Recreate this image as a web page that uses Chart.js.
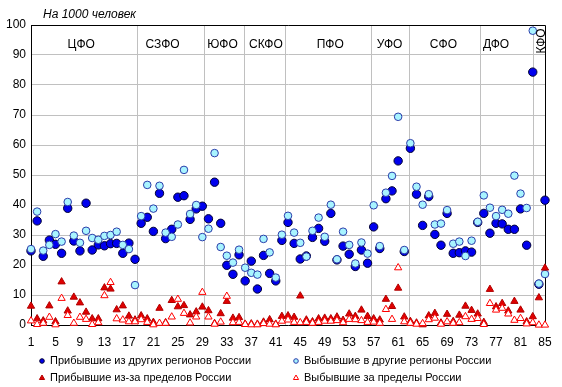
<!DOCTYPE html>
<html><head><meta charset="utf-8">
<script src="https://cdn.jsdelivr.net/npm/chart.js@4/dist/chart.umd.min.js"></script>
<style>html,body{margin:0;padding:0;background:#fff;}#wrap{width:562px;height:387px;position:relative;}</style>
</head><body><div id="wrap"><canvas id="c" width="562" height="387"></canvas></div>
<script>
const regions = [1,2,3,4,5,6,7,8,9,10,11,12,13,14,15,16,17,18,19,20,21,22,23,24,25,26,27,28,29,30,31,32,33,34,35,36,37,38,39,40,41,42,43,44,45,46,47,48,49,50,51,52,53,54,55,56,57,58,59,60,61,62,63,64,65,66,67,68,69,70,71,72,73,74,75,76,77,78,79,80,81,82,83,84,85];
const arrivalsDomestic = [24.7,34.7,22.9,28.3,26.9,23.9,38.9,28.0,24.7,40.6,25.0,26.7,26.4,27.1,27.2,23.9,27.3,21.9,33.9,35.9,31.2,43.9,28.8,31.9,42.6,43.1,35.2,38.7,39.6,35.4,47.6,33.9,19.9,16.9,23.4,14.7,21.3,12.0,23.2,17.2,14.7,28.2,34.2,27.2,22.0,23.0,29.2,32.2,27.9,37.2,21.7,26.3,23.6,19.5,25.0,20.6,32.7,25.5,42.1,44.7,54.7,24.5,58.9,43.6,33.2,42.8,30.2,26.6,37.2,23.9,24.1,24.7,24.3,34.2,37.2,30.6,33.9,33.7,31.9,31.9,38.7,26.6,84.3,13.6,41.6];
const departuresDomestic = [25.3,37.8,24.8,26.7,30.3,27.8,41.0,29.8,27.4,31.4,29.0,28.4,29.7,30.0,31.1,26.7,25.3,13.3,36.3,46.7,38.8,46.4,30.8,29.4,33.5,51.7,37.0,40.0,29.3,32.1,57.3,26.0,23.1,20.8,25.1,19.1,17.4,16.8,28.7,24.2,15.8,30.1,36.4,30.8,27.4,22.8,31.4,35.8,29.4,40.1,21.9,31.1,26.7,20.5,27.5,23.8,39.9,26.3,44.1,49.7,69.4,25.0,60.6,46.1,40.1,43.6,33.5,33.8,38.3,27.1,27.8,23.0,28.1,34.4,43.2,39.1,36.3,38.4,37.1,49.8,43.8,39.0,98.1,13.8,17.0];
const arrivalsAbroad = [6.3,2.1,1.4,6.4,1.1,14.4,4.7,9.3,7.4,4.3,2.1,2.1,12.4,12.0,5.1,6.4,3.0,1.7,3.1,2.1,0.9,5.6,0.8,8.2,6.1,6.5,3.4,4.4,6.0,4.8,0.5,3.8,7.9,2.3,2.5,0.3,0.4,0.3,1.0,1.8,0.3,2.9,3.1,2.6,9.7,1.7,1.1,2.1,2.3,2.1,2.7,1.6,3.7,2.9,5.0,2.9,2.1,1.7,8.6,6.2,12.3,2.7,1.2,0.7,0.1,3.1,3.9,0.7,3.6,1.2,3.3,6.3,4.9,3.7,0.9,11.9,6.1,7.2,4.7,7.9,5.0,1.1,2.8,9.1,19.0];
const departuresAbroad = [1.4,0.2,0.6,2.6,0.1,8.9,3.2,0.6,2.6,1.9,0.2,0.8,9.8,14.2,2.1,1.7,1.1,1.1,1.8,0.9,0.1,0.6,0.6,2.7,8.6,3.9,0.7,2.7,10.9,2.7,0.3,1.0,9.6,0.8,0.9,0.2,0.1,0.1,0.5,0.3,0.1,1.3,1.7,0.9,0.8,0.9,0.6,0.9,1.3,1.3,1.5,0.8,1.9,1.8,1.5,0.9,1.0,0.6,5.2,1.9,19.1,1.1,0.6,0.3,0.5,1.8,2.3,0.3,1.1,0.6,0.8,2.8,1.9,2.2,0.2,7.2,5.0,5.6,3.7,1.6,2.2,0.4,0.8,0.0,0.0];
const xTickLabels = [1,5,9,13,17,21,25,29,33,37,41,45,49,53,57,61,65,69,73,77,81,85];
const yTickLabels = [0,10,20,30,40,50,60,70,80,90,100];
const districtNames = ['ЦФО','СЗФО','ЮФО','СКФО','ПФО','УФО','СФО','ДФО','КФО'];
const districtLabelX = [9.2,22.5,32.3,39.4,49.9,59.6,68.4,77.0,84.5];
const districtBoundaries = [18.4,29.2,35.8,42.5,56.5,62.7,74.3,83.0];
const seriesNames = ['Прибывшие из других регионов России','Выбывшие в другие регионы России','Прибывшие из-за пределов России','Выбывшие за пределы России'];
const unitLabel = 'На 1000 человек';

const FONT = '"Liberation Sans", Arial, sans-serif';
const toPts = arr => regions.map((x, i) => ({x: x, y: arr[i]}));

const decor = {
  id: 'decor',
  beforeDatasetsDraw(chart) {
    const {ctx, chartArea: a, scales: {x, y}} = chart;
    ctx.save();
    ctx.strokeStyle = '#c0c0c0';
    ctx.lineWidth = 1;
    districtBoundaries.forEach(v => {
      const px = Math.round(x.getPixelForValue(v)) + 0.5;
      ctx.beginPath(); ctx.moveTo(px, a.top); ctx.lineTo(px, a.bottom); ctx.stroke();
    });
    ctx.strokeStyle = '#000';
    ctx.beginPath();
    ctx.moveTo(a.left, Math.round(a.top) + 0.5);
    ctx.lineTo(Math.round(a.right) + 0.5, Math.round(a.top) + 0.5);
    ctx.lineTo(Math.round(a.right) + 0.5, a.bottom);
    ctx.stroke();
    ctx.restore();
  },
  afterDraw(chart) {
    const {ctx, chartArea: a, scales: {x, y}} = chart;
    ctx.save();
    ctx.fillStyle = '#000';
    ctx.font = '12px ' + FONT;
    ctx.textAlign = 'center';
    ctx.textBaseline = 'middle';
    districtNames.forEach((n, i) => {
      const px = x.getPixelForValue(districtLabelX[i]);
      const py = y.getPixelForValue(93.3);
      if (n === 'КФО') {
        ctx.save(); ctx.translate(px, y.getPixelForValue(94.7)); ctx.rotate(-Math.PI / 2);
        ctx.fillText(n, 0, 0); ctx.restore();
      } else {
        ctx.fillText(n, px, py);
      }
    });
    ctx.font = 'italic 12px ' + FONT;
    ctx.textAlign = 'left';
    ctx.fillText(unitLabel, 43, 15);
    // legend
    ctx.font = '11px ' + FONT;
    const cols = [42, 296], rows = [361, 378];
    chart.data.datasets.forEach((ds, k) => {
      const lx = cols[k % 2], ly = rows[Math.floor(k / 2)];
      ctx.fillStyle = ds.backgroundColor; ctx.strokeStyle = ds.borderColor; ctx.lineWidth = 1;
      Chart.helpers.drawPoint(ctx, {pointStyle: ds.pointStyle, radius: ds.pointStyle === 'triangle' ? 3 : 2.3, borderWidth: 1, rotation: 0}, lx, ly);
      ctx.fillStyle = '#000';
      ctx.fillText(ds.label, lx + 8, ly);
    });
    ctx.restore();
  }
};

new Chart(document.getElementById('c'), {
  type: 'scatter',
  data: {
    datasets: [
      {label: seriesNames[0], data: toPts(arrivalsDomestic), pointStyle: 'circle', pointRadius: 4.2, borderWidth: 1, backgroundColor: '#0000ee', borderColor: '#000033', order: 4, clip: false},
      {label: seriesNames[1], data: toPts(departuresDomestic), pointStyle: 'circle', pointRadius: 3.8, borderWidth: 1, backgroundColor: '#a8f4ff', borderColor: '#2a3caa', order: 3, clip: false},
      {label: seriesNames[2], data: toPts(arrivalsAbroad), pointStyle: 'triangle', pointRadius: 4.2, borderWidth: 1, backgroundColor: '#e00000', borderColor: '#b00000', order: 2, clip: false},
      {label: seriesNames[3], data: toPts(departuresAbroad), pointStyle: 'triangle', pointRadius: 4.2, borderWidth: 1, backgroundColor: '#ffffff', borderColor: '#ff0000', order: 1, clip: false}
    ]
  },
  options: {
    responsive: false,
    animation: false,
    devicePixelRatio: 1,
    layout: {padding: {left: 0, right: 17, top: 25, bottom: 0}},
    plugins: {legend: {display: false}, tooltip: {enabled: false}},
    elements: {point: {hoverRadius: 4}},
    scales: {
      x: {
        type: 'linear', min: 1, max: 85,
        afterBuildTicks: s => { s.ticks = xTickLabels.map(v => ({value: v})); },
        afterFit: s => { s.height = 62; },
        grid: {display: false, drawTicks: false},
        border: {display: true, color: '#000', width: 1},
        ticks: {color: '#000', font: {family: FONT, size: 12}, padding: 10, maxRotation: 0, autoSkip: false}
      },
      y: {
        type: 'linear', min: 0, max: 100,
        afterBuildTicks: s => { s.ticks = yTickLabels.map(v => ({value: v})); },
        afterFit: s => { s.width = 31; },
        grid: {color: '#c0c0c0', drawTicks: false},
        border: {display: true, color: '#000', width: 1},
        ticks: {color: '#000', font: {family: FONT, size: 12}, padding: 5}
      }
    }
  },
  plugins: [decor]
});
</script></body></html>
